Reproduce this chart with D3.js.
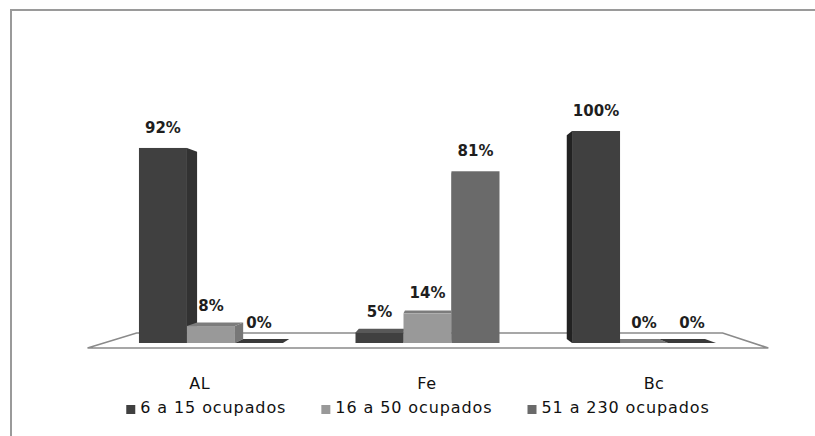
<!DOCTYPE html>
<html>
<head>
<meta charset="utf-8">
<script src="https://cdn.jsdelivr.net/npm/d3@7"></script>
<style>
  body { margin: 0; background: #fff; }
  svg { display: block; font-family: "DejaVu Sans", sans-serif; }
</style>
</head>
<body>
<svg width="815" height="436"></svg>
<script>
// values (percent)
const categories = ['AL', 'Fe', 'Bc'];
const seriesNames = ['6 a 15 ocupados', '16 a 50 ocupados', '51 a 230 ocupados'];
const ocupados6a15 = [92, 5, 100];
const ocupados16a50 = [8, 14, 0];
const ocupados51a230 = [0, 81, 0];

const seriesValues = [ocupados6a15, ocupados16a50, ocupados51a230];
const frontColors = ['#404040', '#999999', '#6a6a6a'];
const topColors = ['#585858', '#7c7c7c', '#3a3a3a'];

const svg = d3.select('svg');

// chart frame
svg.append('rect')
    .attr('x', 11).attr('y', 10)
    .attr('width', 900).attr('height', 500)
    .attr('fill', 'none')
    .attr('stroke', '#9a9a9a')
    .attr('stroke-width', 2);

const x = d3.scaleBand()
    .domain(categories)
    .range([74, 781])
    .paddingInner(0.335)
    .paddingOuter(0.3);

const xs = d3.scaleBand()
    .domain(seriesNames)
    .range([0, x.bandwidth()]);

const y = d3.scaleLinear()
    .domain([0, 100])
    .range([343, 131]);

// simple perspective: points pulled toward a vanishing point by depth factor
const vp = { x: 440, y: 240 };
const backDepth = 0.96;
const floorFront = 1.049;
const floorBack = 0.903;
const proj = (px, py, s) => [vp.x + (px - vp.x) * s, vp.y + (py - vp.y) * s];

// floor
const fl = x.range()[0] + 30, fr = x.range()[1] - 28, fy = y(0);
svg.append('polygon')
    .attr('points', [proj(fl, fy, floorFront), proj(fr, fy, floorFront),
        proj(fr, fy, floorBack), proj(fl, fy, floorBack)].map(p => p.join(',')).join(' '))
    .attr('fill', '#fff')
    .attr('stroke', '#8a8a8a')
    .attr('stroke-width', 1.6);

const bars = [];
categories.forEach((c, ci) => {
    seriesNames.forEach((s, si) => {
        const x0 = x(c) + xs(s);
        const x1 = x0 + xs.bandwidth();
        bars.push({ c, si, value: seriesValues[si][ci], x0, x1, top: y(seriesValues[si][ci]), base: y(0) });
    });
});

const pts = arr => arr.map(p => p.join(',')).join(' ');

// side faces
bars.forEach(b => {
    if (b.x1 < vp.x) {
        svg.append('polygon')
            .attr('points', pts([[b.x1, b.top], proj(b.x1, b.top, backDepth), proj(b.x1, b.base, backDepth), [b.x1, b.base]]))
            .attr('fill', d3.color(frontColors[b.si]).darker(0.7));
    }
    if (b.x0 > vp.x) {
        svg.append('polygon')
            .attr('points', pts([[b.x0, b.top], proj(b.x0, b.top, backDepth), proj(b.x0, b.base, backDepth), [b.x0, b.base]]))
            .attr('fill', d3.color(frontColors[b.si]).darker(1.8));
    }
});

// top faces
bars.filter(b => b.top > vp.y).forEach(b => {
    svg.append('polygon')
        .attr('points', pts([[b.x0, b.top], [b.x1, b.top], proj(b.x1, b.top, backDepth), proj(b.x0, b.top, backDepth)]))
        .attr('fill', topColors[b.si]);
});

// front faces
svg.selectAll('.bar')
    .data(bars)
    .enter()
    .append('rect')
    .classed('bar', true)
    .attr('x', d => d.x0)
    .attr('y', d => d.top)
    .attr('width', d => d.x1 - d.x0)
    .attr('height', d => d.base - d.top)
    .attr('fill', d => frontColors[d.si]);

// data labels
svg.selectAll('.val')
    .data(bars)
    .enter()
    .append('text')
    .attr('x', d => (d.x0 + d.x1) / 2)
    .attr('y', d => d.top - 15)
    .attr('text-anchor', 'middle')
    .attr('font-size', 15)
    .attr('font-weight', 'bold')
    .attr('fill', '#1e1e1e')
    .text(d => d.value + '%');

// category labels on the floor front
svg.selectAll('.cat')
    .data(categories)
    .enter()
    .append('text')
    .attr('x', d => proj(x(d) + x.bandwidth() / 2, fy, floorFront)[0])
    .attr('y', 389)
    .attr('text-anchor', 'middle')
    .attr('font-size', 16)
    .attr('letter-spacing', 0.5)
    .attr('fill', '#111')
    .text(d => d);

// legend
const legend = svg.append('g');
let lx = 0;
seriesNames.forEach((s, i) => {
    const g = legend.append('g').attr('transform', `translate(${lx},0)`);
    g.append('rect').attr('x', 0).attr('y', -8).attr('width', 9).attr('height', 9).attr('fill', frontColors[i]);
    const t = g.append('text').attr('x', 14).attr('y', 0)
        .attr('font-size', 16).attr('letter-spacing', 0.9)
        .attr('fill', '#111').text(s);
    lx += 14 + t.node().getComputedTextLength() + 35;
});
const lw = lx - 35;
legend.attr('transform', `translate(${418 - lw / 2},413)`);
</script>
</body>
</html>
